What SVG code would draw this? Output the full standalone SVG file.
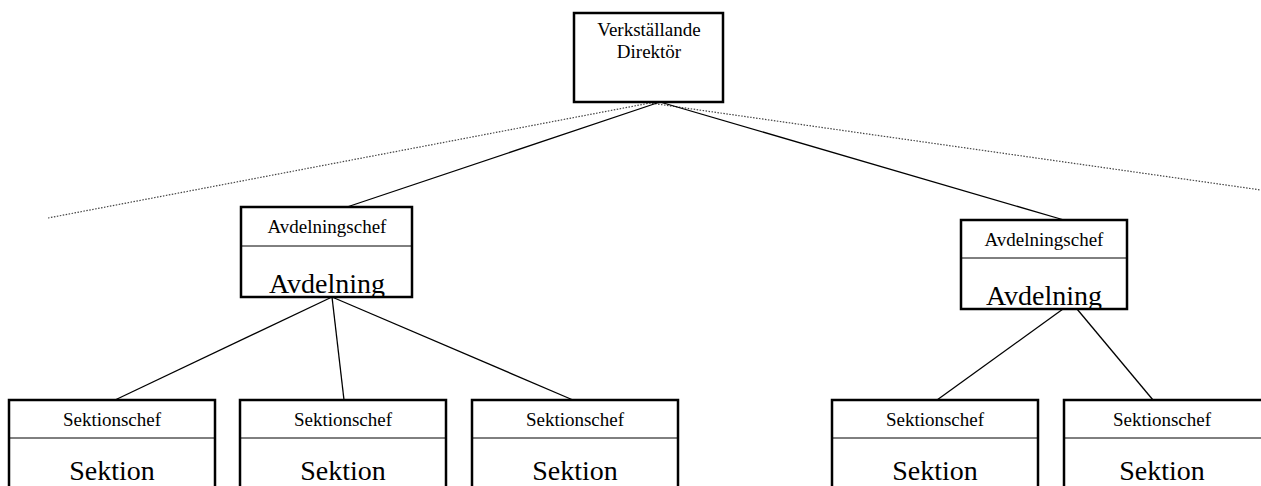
<svg xmlns="http://www.w3.org/2000/svg" width="1261" height="486" viewBox="0 0 1261 486">
<style>
.box{fill:#fff;stroke:#000;stroke-width:2.5}
.div{stroke:#000;stroke-width:1}
.con{stroke:#000;stroke-width:1.3;fill:none}
.dot{stroke:#444;stroke-width:1.2;stroke-dasharray:1.5 1.5;fill:none}
text{font-family:"Liberation Serif","Times New Roman",serif;fill:#000;text-anchor:middle}
.s{font-size:19px}
.l{font-size:28px}
</style>
<defs>
<clipPath id="c1"><rect x="241" y="246" width="171" height="50"/></clipPath>
<clipPath id="c2"><rect x="961" y="258" width="166" height="50"/></clipPath>
</defs>
<rect width="1261" height="486" fill="#fff"/>
<path class="dot" d="M48,218 L650,103 L1261,190"/>
<g id="connectors">
<line class="con" x1="660" y1="102" x2="347" y2="207"/>
<line class="con" x1="660" y1="102" x2="1064" y2="220"/>
<line class="con" x1="332" y1="297" x2="115" y2="400"/>
<line class="con" x1="332" y1="297" x2="344" y2="400"/>
<line class="con" x1="332" y1="297" x2="573" y2="400"/>
<line class="con" x1="1063" y1="309" x2="937" y2="400"/>
<line class="con" x1="1077" y1="309" x2="1153" y2="400"/>
</g>
<g id="vd">
<rect class="box" x="574" y="13" width="149" height="89"/>
<text class="s" x="649" y="36">Verkställande</text>
<text class="s" x="649" y="58">Direktör</text>
</g>
<g id="avd1">
<rect class="box" x="241" y="207" width="171" height="90"/>
<line class="div" x1="241" y1="246" x2="412" y2="246"/>
<text class="s" x="327" y="233">Avdelningschef</text>
<text class="l" x="327" y="293" clip-path="url(#c1)">Avdelning</text>
</g>
<g id="avd2">
<rect class="box" x="961" y="220" width="166" height="89"/>
<line class="div" x1="961" y1="258" x2="1127" y2="258"/>
<text class="s" x="1044" y="246">Avdelningschef</text>
<text class="l" x="1044" y="305" clip-path="url(#c2)">Avdelning</text>
</g>
<g id="sek1">
<rect class="box" x="9" y="400" width="206" height="100"/>
<line class="div" x1="9" y1="438" x2="215" y2="438"/>
<text class="s" x="112" y="426">Sektionschef</text>
<text class="l" x="112" y="480">Sektion</text>
</g>
<g id="sek2">
<rect class="box" x="240" y="400" width="206" height="100"/>
<line class="div" x1="240" y1="438" x2="446" y2="438"/>
<text class="s" x="343" y="426">Sektionschef</text>
<text class="l" x="343" y="480">Sektion</text>
</g>
<g id="sek3">
<rect class="box" x="472" y="400" width="206" height="100"/>
<line class="div" x1="472" y1="438" x2="678" y2="438"/>
<text class="s" x="575" y="426">Sektionschef</text>
<text class="l" x="575" y="480">Sektion</text>
</g>
<g id="sek4">
<rect class="box" x="832" y="400" width="206" height="100"/>
<line class="div" x1="832" y1="438" x2="1038" y2="438"/>
<text class="s" x="935" y="426">Sektionschef</text>
<text class="l" x="935" y="480">Sektion</text>
</g>
<g id="sek5">
<rect class="box" x="1064" y="400" width="206" height="100"/>
<line class="div" x1="1064" y1="438" x2="1270" y2="438"/>
<text class="s" x="1162" y="426">Sektionschef</text>
<text class="l" x="1162" y="480">Sektion</text>
</g>
</svg>
